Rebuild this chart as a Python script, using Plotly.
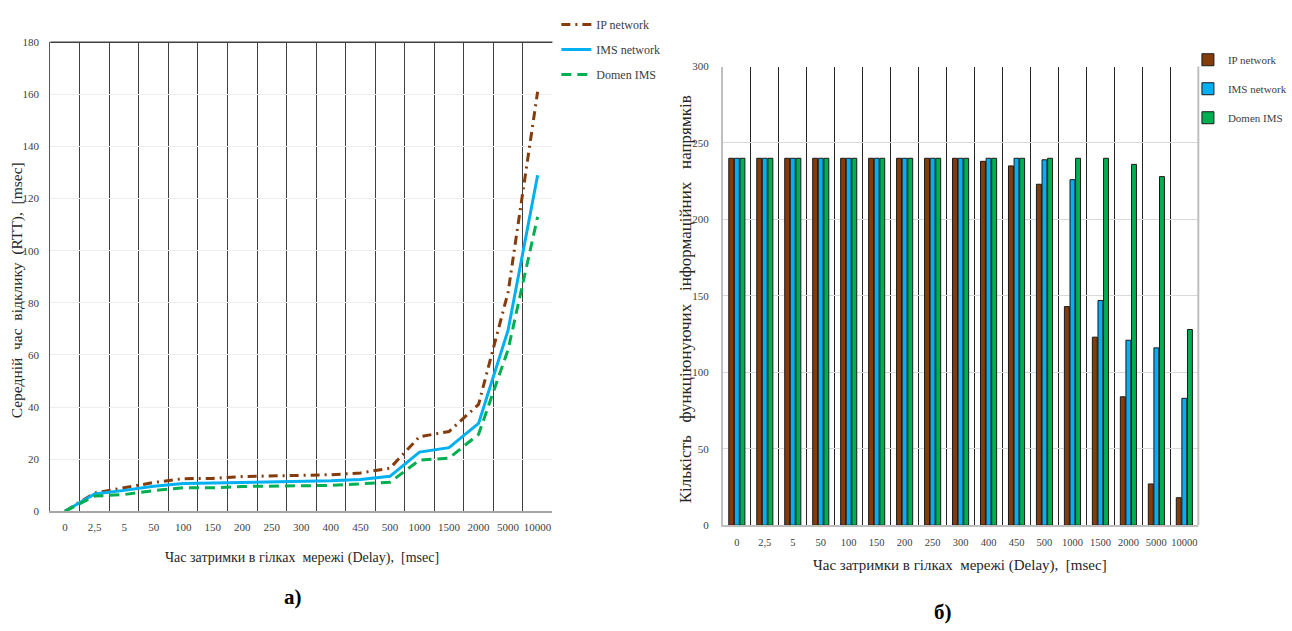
import plotly.graph_objects as go

# ---------------- data ----------------
categories = ["0", "2,5", "5", "50", "100", "150", "200", "250", "300",
              "400", "450", "500", "1000", "1500", "2000", "5000", "10000"]

# chart a) : average round-trip time, msec
rtt_ip = [0, 7.0, 9.0, 11.0, 12.5, 12.6, 13.3, 13.5, 13.8, 14.0, 14.7, 16.5,
          28.6, 30.6, 41.0, 84.0, 161.0]
rtt_ims = [0, 6.6, 8.0, 9.6, 10.6, 10.8, 11.0, 11.3, 11.5, 11.7, 12.2, 13.4,
           22.7, 24.4, 33.7, 69.5, 129.0]
rtt_domen = [0, 5.8, 6.4, 7.9, 9.0, 9.0, 9.5, 9.7, 9.7, 9.9, 10.5, 11.1,
             19.6, 20.4, 29.5, 62.0, 113.0]

# chart б) : number of functioning information directions
cnt_ip = [240, 240, 240, 240, 240, 240, 240, 240, 240, 238, 235, 223,
          143, 123, 84, 27, 18]
cnt_ims = [240, 240, 240, 240, 240, 240, 240, 240, 240, 240, 240, 239,
           226, 147, 121, 116, 83]
cnt_domen = [240, 240, 240, 240, 240, 240, 240, 240, 240, 240, 240, 240,
             240, 240, 236, 228, 128]

series_names = ["IP network", "IMS network", "Domen IMS"]

# ---------------- styling ----------------
W, H = 1292, 631
FONT = "Liberation Serif"
C_IP, C_IMS, C_DOM = "#843c0c", "#00b0f0", "#00b050"
SP = "\u00a0"


def fx(p):
    return p / W


def fy(p):
    return 1 - p / H


fig = go.Figure()

line_styles = [
    dict(color=C_IP, width=3, dash="9px,5px,2px,5px"),
    dict(color=C_IMS, width=3),
    dict(color=C_DOM, width=3, dash="10px,6px"),
]
for name, vals, st, grp in zip(series_names, [rtt_ip, rtt_ims, rtt_domen],
                               line_styles, ["a1", "a2", "a3"]):
    fig.add_trace(go.Scatter(x=categories, y=vals, name=name, mode="lines",
                             line=st, xaxis="x", yaxis="y",
                             legend="legend", legendgroup=grp))

for name, vals, col, grp in zip(series_names, [cnt_ip, cnt_ims, cnt_domen],
                                [C_IP, C_IMS, C_DOM], ["b1", "b2", "b3"]):
    fig.add_trace(go.Bar(x=categories, y=vals, name=name,
                         marker=dict(color=col, line=dict(color="#1a1a1a", width=1)),
                         xaxis="x2", yaxis="y2",
                         legend="legend2", legendgroup=grp))

tick_font = dict(family=FONT, size=11, color="#404040")
tick_font_r = dict(family=FONT, size=10.5, color="#404040")

fig.update_layout(
    width=W, height=H, autosize=False,
    margin=dict(l=0, r=0, t=0, b=0),
    paper_bgcolor="white", plot_bgcolor="white",
    barmode="group", bargap=0.4, bargroupgap=0.12,
    font=dict(family=FONT, color="#404040"),
    xaxis=dict(domain=[fx(50.8), fx(558)], anchor="y", type="category",
               tickson="boundaries", showgrid=True, gridcolor="#404040",
               gridwidth=1, showline=True, linecolor="#a6a6a6", linewidth=2,
               ticks="", tickfont=tick_font, range=[-0.5, 16.5], tickangle=0,
               ticklabelstandoff=5),
    yaxis=dict(domain=[fy(515), fy(37)], anchor="x", range=[0, 180], dtick=20,
               showgrid=True, gridcolor="#eeeeee", zeroline=False,
               showline=True, linecolor="#595959", linewidth=1,
               ticks="", tickfont=tick_font, ticklabelstandoff=8),
    xaxis2=dict(domain=[fx(730.2), fx(1210.5)], anchor="y2", type="category",
                tickson="boundaries", showgrid=True, gridcolor="#262626",
                gridwidth=1, showline=True, linecolor="#bfbfbf", linewidth=2,
                ticks="", tickfont=tick_font_r, range=[-0.5, 16.5], tickangle=0,
                ticklabelstandoff=6),
    yaxis2=dict(domain=[fy(529.3), fy(61.7)], anchor="x2", range=[0, 300],
                dtick=50, showgrid=True, gridcolor="#d9d9d9", zeroline=False,
                showline=True, linecolor="#bfbfbf", linewidth=2,
                ticks="", tickfont=tick_font, ticklabelstandoff=10),
    legend=dict(x=fx(562), y=fy(4), xanchor="left", yanchor="top",
                bgcolor="rgba(0,0,0,0)", tracegroupgap=6, itemwidth=30,
                font=dict(family=FONT, size=12, color="#404040")),
    legend2=dict(x=fx(1200), y=fy(40), xanchor="left", yanchor="top",
                 bgcolor="rgba(0,0,0,0)", tracegroupgap=10, itemwidth=30,
                 font=dict(family=FONT, size=11, color="#404040")),
    showlegend=True,
)

shapes = [
    # dark top border of chart a)
    dict(type="line", xref="x domain", yref="y domain", x0=0, x1=1, y0=1, y1=1,
         line=dict(color="#404040", width=1.5)),
    # grey right border of chart б)
    dict(type="line", xref="x2 domain", yref="y2 domain", x0=1, x1=1, y0=0, y1=1,
         line=dict(color="#bfbfbf", width=2)),
]
fig.update_layout(shapes=shapes)

left_ytitle = (SP * 2).join(["Середній", "час", "відклику", "(RTT),", "[msec]"])
right_ytitle = (SP * 3).join(["Кількість", "функціюнуючих", "інформаційних", "напрямків"])
xtitle = "Час затримки в гілках" + SP * 2 + "мережі (Delay)," + SP * 2 + "[msec]"

annotations = [
    dict(text=left_ytitle, x=fx(18), y=fy(290),
         textangle=-90, font=dict(family=FONT, size=15.5, color="#262626")),
    dict(text=right_ytitle, x=fx(692), y=fy(299), textangle=-90,
         font=dict(family=FONT, size=17, color="#262626")),
    dict(text=xtitle, x=fx(305), y=fy(563),
         font=dict(family=FONT, size=14, color="#262626")),
    dict(text=xtitle, x=fx(970), y=fy(570),
         font=dict(family=FONT, size=15, color="#262626")),
    dict(text="<b>а)</b>", x=fx(296), y=fy(602),
         font=dict(family=FONT, size=21, color="#000000")),
    dict(text="<b>б)</b>", x=fx(953), y=fy(618),
         font=dict(family=FONT, size=21, color="#000000")),
]
for a in annotations:
    a.update(xref="paper", yref="paper", showarrow=False, xanchor="center",
             yanchor="middle")
fig.update_layout(annotations=annotations)

fig.write_html("out.html",
               config={"displayModeBar": False},
               post_script="document.body.style.margin='0';"
                           "document.body.style.overflow='hidden';")
